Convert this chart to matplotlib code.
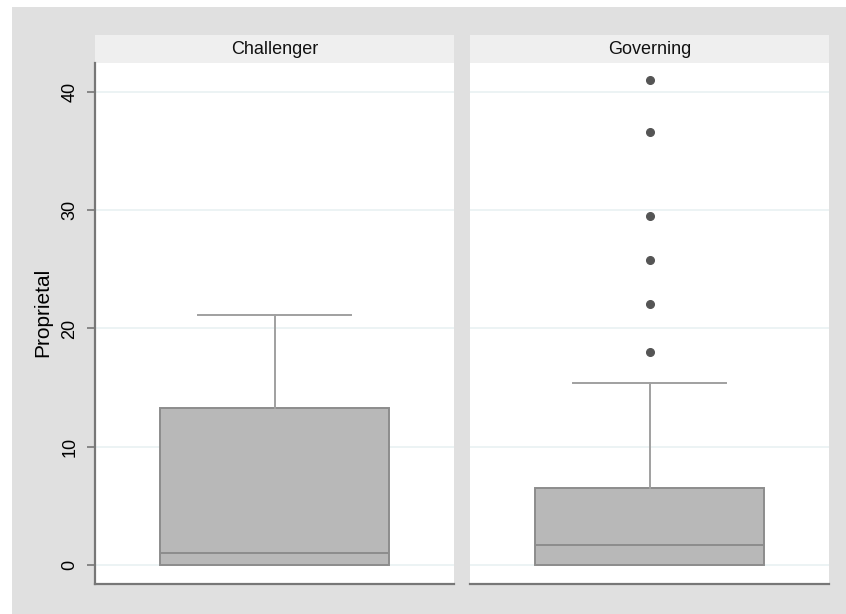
import numpy as np
import matplotlib
matplotlib.use("Agg")
import matplotlib.pyplot as plt
from matplotlib.patches import Rectangle

plt.rcParams['font.family'] = ['Liberation Sans', 'DejaVu Sans']

# box stats
groups = ["Challenger", "Governing"]
q1 = [0.0, 0.0]
med = [1.0, 1.7]
q3 = [13.3, 6.5]
whislo = [0.0, 0.0]
whishi = [21.1, 15.4]
outliers = [[], [18.0, 22.1, 25.8, 29.5, 36.6, 41.0]]
yticks = [0, 10, 20, 30, 40]

W, H = 846, 614
fig = plt.figure(figsize=(W / 100, H / 100), dpi=100, facecolor="white")
# outer grey graph region
fig.patches.append(Rectangle((12 / W, 0), 1 - 12 / W, (H - 7) / H,
                             transform=fig.transFigure, facecolor="#e0e0e0",
                             edgecolor="none", zorder=-5))

lefts = [95, 470]
pw = 359
ph = 521
bottom = (H - 584) / H
head_h = 28 / ph

for i, name in enumerate(groups):
    ax = fig.add_axes([lefts[i] / W, bottom, pw / W, ph / H])
    ax.set_facecolor("white")
    ax.set_xlim(0, 1)
    ax.set_ylim(-1.61, 42.45)
    for y in yticks:
        ax.axhline(y, color="#eaf2f3", lw=1.3, zorder=0)

    stats = [dict(med=med[i], q1=q1[i], q3=q3[i], whislo=whislo[i],
                  whishi=whishi[i], fliers=outliers[i])]
    bp = ax.bxp(stats, positions=[0.5], widths=0.64, capwidths=0.426,
                patch_artist=True, manage_ticks=False,
                boxprops=dict(facecolor="#b8b8b8", edgecolor="#8c8c8c", lw=1.4),
                medianprops=dict(color="#8c8c8c", lw=1.4),
                whiskerprops=dict(color="#a0a0a0", lw=1.4),
                capprops=dict(color="#a0a0a0", lw=1.4),
                flierprops=dict(marker="o", markerfacecolor="#555555",
                                markeredgecolor="#555555", markersize=5.5))
    # lower whisker sits on q1 = 0, no cap shown there
    bp["caps"][0].set_visible(False)

    # header strip
    ax.add_patch(Rectangle((0, 1), 1, head_h, transform=ax.transAxes,
                           facecolor="#efefef", edgecolor="none", clip_on=False))
    ax.text(0.5, 1 + head_h / 2, name, transform=ax.transAxes,
            ha="center", va="center", fontsize=13, color="#111111")

    for s in ["top", "right"]:
        ax.spines[s].set_visible(False)
    ax.spines["bottom"].set_color("#777777")
    ax.spines["bottom"].set_linewidth(1.6)
    ax.set_xticks([])
    if i == 0:
        ax.spines["left"].set_color("#777777")
        ax.spines["left"].set_linewidth(1.6)
        ax.set_yticks(yticks)
        ax.tick_params(axis="y", length=6, width=1.2, color="#777777",
                       labelsize=13, pad=6)
        for lab in ax.get_yticklabels():
            lab.set_rotation(90)
            lab.set_va("center")
        ax.set_ylabel("Proprietal", fontsize=15)
        ax.yaxis.set_label_coords(-0.12, 0.522)
    else:
        ax.spines["left"].set_visible(False)
        ax.set_yticks([])

fig.savefig("out.png", dpi=100, facecolor="white")
